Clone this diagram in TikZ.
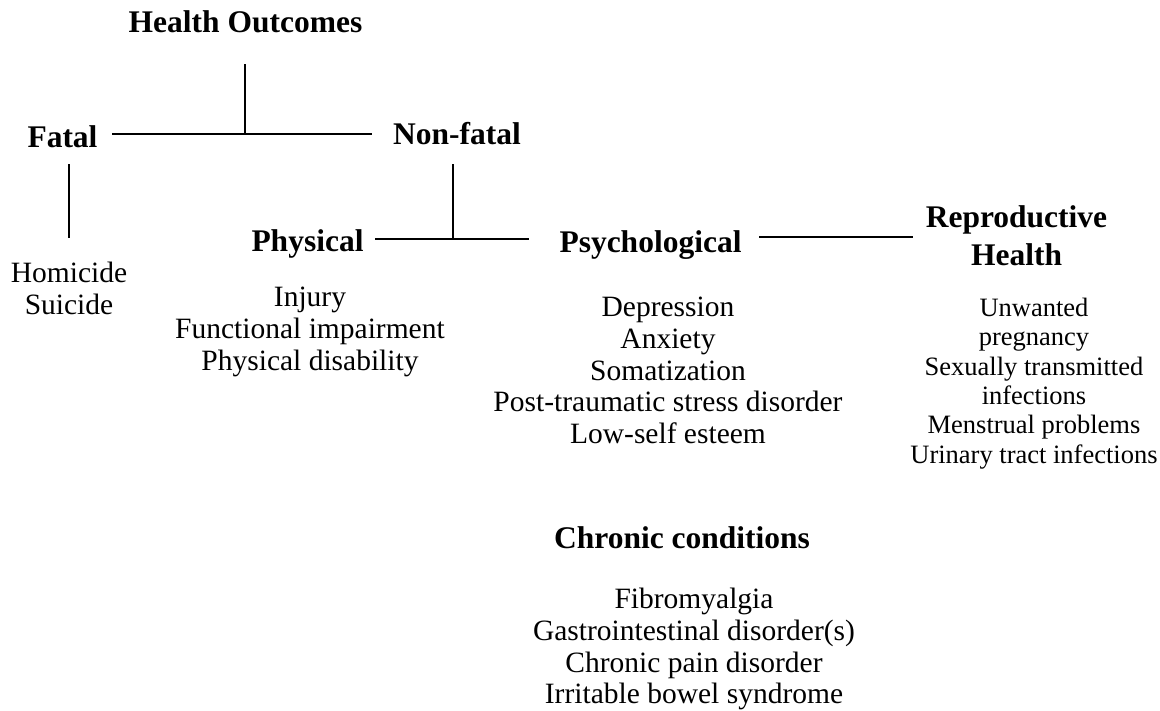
\documentclass[tikz,border=0pt]{standalone}
\usepackage{fontspec}
\setmainfont{Liberation Serif}
\begin{document}
\begin{tikzpicture}[x=1pt,y=-1pt,
  head/.style={font=\fontsize{31.5}{38}\selectfont\bfseries, align=center, inner sep=0pt, anchor=base},
  headtwo/.style={font=\fontsize{31.5}{38}\selectfont\bfseries, align=center, inner sep=0pt, anchor=north},
  items/.style={font=\fontsize{29.5}{31.7}\selectfont, align=center, inner sep=0pt, anchor=north},
  smallitems/.style={font=\fontsize{26.5}{29.3}\selectfont, align=center, inner sep=0pt, anchor=north},
  conn/.style={line width=2.2pt}]
\useasboundingbox (0,0) rectangle (1160,710);
\node[head] (ho) at (245.5,32) {Health Outcomes};
\node[head] (fatal) at (62.5,147) {Fatal};
\node[head] (nonfatal) at (457,144) {Non-fatal};
\node[head] (phys) at (307.5,251) {Physical};
\node[head] (psych) at (650.5,252) {Psychological};
\node[headtwo] (repro) at (1016.5,205) {Reproductive\\Health};
\node[head] (chronic) at (682,548) {Chronic conditions};
\node[items] (fatallist) at (69,262) {Homicide\\Suicide};
\node[items] (physlist) at (310,287) {Injury\\Functional impairment\\Physical disability};
\node[items] (psychlist) at (668,297) {Depression\\Anxiety\\Somatization\\Post-traumatic stress disorder\\Low-self esteem};
\node[smallitems] (reprolist) at (1034,298) {Unwanted\\pregnancy\\Sexually transmitted\\infections\\Menstrual problems\\Urinary tract infections};
\node[items] (chroniclist) at (694,588) {Fibromyalgia\\Gastrointestinal disorder(s)\\Chronic pain disorder\\Irritable bowel syndrome};
\coordinate (hobot) at (245,64);
\coordinate (j1) at (245,134);
\coordinate (fl) at (112,134);
\coordinate (nfl) at (372,134);
\coordinate (ftop) at (69,164);
\coordinate (fbot) at (69,238);
\coordinate (nftop) at (453,164);
\coordinate (j2) at (453,239);
\coordinate (pl) at (375,239);
\coordinate (pr) at (529,239);
\coordinate (psr) at (759,237);
\coordinate (rl) at (913,237);
\draw[conn] (fl) -- (j1) -- (nfl);
\draw[conn] (hobot) -- (j1);
\draw[conn] (ftop) -- (fbot);
\draw[conn] (pl) -- (j2) -- (pr);
\draw[conn] (nftop) -- (j2);
\draw[conn] (psr) -- (rl);
\end{tikzpicture}
\end{document}
